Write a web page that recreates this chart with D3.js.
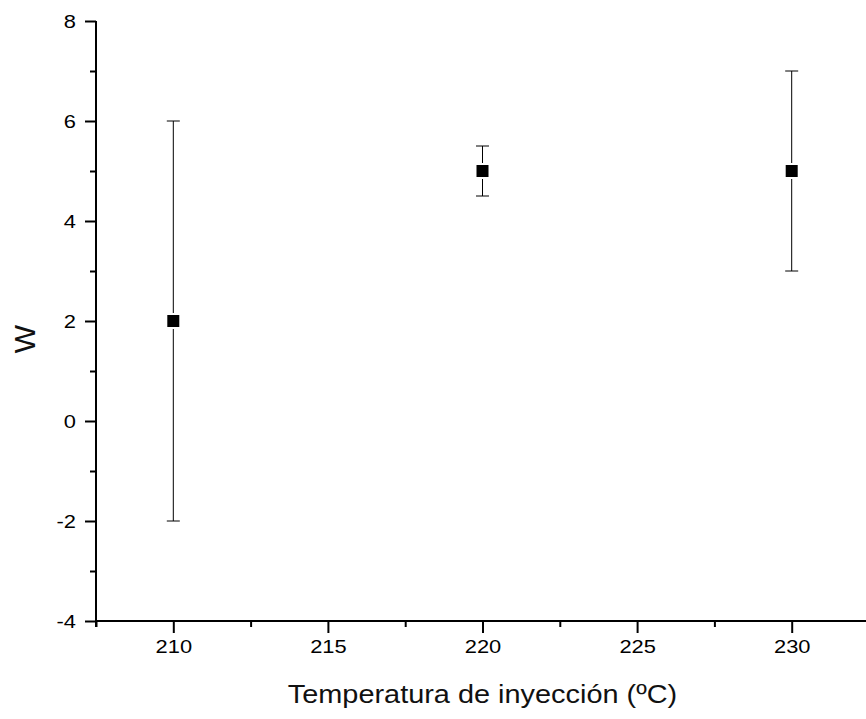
<!DOCTYPE html>
<html>
<head>
<meta charset="utf-8">
<script src="https://cdn.jsdelivr.net/npm/d3@7"></script>
<style>
  html, body { margin: 0; padding: 0; background: #fff; }
  svg { display: block; font-family: "Liberation Sans", Arial, sans-serif; }
</style>
</head>
<body>
<svg id="chart" width="866" height="719"></svg>
<script>
// Injection temperature (°C) vs. W, with symmetric error bars
const temperatures = [210, 220, 230];
const wValues = [2, 5, 5];
const wErrors = [4, 0.5, 2];

const xTicks = [210, 215, 220, 225, 230];
const xMinorTicks = [207.5, 212.5, 217.5, 222.5, 227.5, 232.5];
const yTicks = [-4, -2, 0, 2, 4, 6, 8];
const yMinorTicks = [-3, -1, 1, 3, 5, 7];

const xTitle = "Temperatura de inyección (ºC)";
const yTitle = "W";

const svg = d3.select("#chart");

const x = d3.scaleLinear().domain([207.5, 232.5]).range([96, 869]);
const y = d3.scaleLinear().domain([-4, 8]).range([621, 21]);

const axisColor = "#000";
const plain = d => String(d);   // keeps an ASCII hyphen for negatives

// stretch a text element horizontally by a factor
function widen(sel, k) {
  sel.each(function () {
    const w = this.getComputedTextLength();
    d3.select(this).attr("textLength", w * k).attr("lengthAdjust", "spacingAndGlyphs");
  });
}

function styleLabels(sel) {
  sel.attr("font-size", 19).attr("fill", "#000")
    .attr("font-family", "Liberation Sans, Arial, sans-serif").call(widen, 1.15);
}

// x axis: major ticks with labels, minor ticks without
const xAxisG = svg.append("g").attr("transform", `translate(0,${y(-4)})`);
xAxisG.call(d3.axisBottom(x).tickValues(xTicks).tickSize(12).tickPadding(7).tickFormat(plain));
xAxisG.call(g => g.select(".domain").remove());
xAxisG.selectAll(".tick line").attr("stroke-width", 2);
xAxisG.selectAll(".tick text").call(styleLabels);
svg.append("g").attr("transform", `translate(0,${y(-4)})`)
  .call(d3.axisBottom(x).tickValues(xMinorTicks).tickSize(6).tickFormat(""))
  .call(g => g.select(".domain").remove())
  .selectAll(".tick line").attr("stroke-width", 2);

// y axis
const yAxisG = svg.append("g").attr("transform", `translate(${x(207.5)},0)`);
yAxisG.call(d3.axisLeft(y).tickValues(yTicks).tickSize(11).tickPadding(9).tickFormat(plain));
yAxisG.call(g => g.select(".domain").remove());
yAxisG.selectAll(".tick line").attr("stroke-width", 2);
yAxisG.selectAll(".tick text").call(styleLabels);
svg.append("g").attr("transform", `translate(${x(207.5)},0)`)
  .call(d3.axisLeft(y).tickValues(yMinorTicks).tickSize(6).tickFormat(""))
  .call(g => g.select(".domain").remove())
  .selectAll(".tick line").attr("stroke-width", 2);

// axis lines
svg.append("line")
  .attr("x1", x(207.5)).attr("x2", x(207.5))
  .attr("y1", y(8)).attr("y2", y(-4) + 6)
  .attr("stroke", axisColor).attr("stroke-width", 2);
svg.append("line")
  .attr("x1", x(207.5) - 1).attr("x2", 866)
  .attr("y1", y(-4)).attr("y2", y(-4))
  .attr("stroke", axisColor).attr("stroke-width", 2);

// axis titles
svg.append("text")
  .attr("x", x(220)).attr("y", 703)
  .attr("text-anchor", "middle")
  .attr("font-size", 26.5)
  .attr("fill", "#111")
  .text(xTitle)
  .call(widen, 1.09);

svg.append("text")
  .attr("transform", `translate(35,339) rotate(-90)`)
  .attr("text-anchor", "middle")
  .attr("font-size", 30)
  .attr("fill", "#111")
  .text(yTitle);

// points with error bars
const points = temperatures.map((t, i) => ({ t, w: wValues[i], e: wErrors[i] }));
const capHalf = 6.5;
const pts = svg.append("g").selectAll("g").data(points).join("g");

pts.append("line")
  .attr("x1", d => x(d.t)).attr("x2", d => x(d.t))
  .attr("y1", d => y(d.w + d.e)).attr("y2", d => y(d.w - d.e))
  .attr("stroke", "#000").attr("stroke-width", 1);
pts.append("line")
  .attr("x1", d => x(d.t) - capHalf).attr("x2", d => x(d.t) + capHalf)
  .attr("y1", d => y(d.w + d.e)).attr("y2", d => y(d.w + d.e))
  .attr("stroke", "#000").attr("stroke-width", 1);
pts.append("line")
  .attr("x1", d => x(d.t) - capHalf).attr("x2", d => x(d.t) + capHalf)
  .attr("y1", d => y(d.w - d.e)).attr("y2", d => y(d.w - d.e))
  .attr("stroke", "#000").attr("stroke-width", 1);

const size = 12, halo = 16;
pts.append("rect")
  .attr("x", d => x(d.t) - halo / 2).attr("y", d => y(d.w) - halo / 2)
  .attr("width", halo).attr("height", halo)
  .attr("fill", "#fff");
pts.append("rect")
  .attr("x", d => x(d.t) - size / 2).attr("y", d => y(d.w) - size / 2)
  .attr("width", size).attr("height", size)
  .attr("fill", "#000");
</script>
</body>
</html>
